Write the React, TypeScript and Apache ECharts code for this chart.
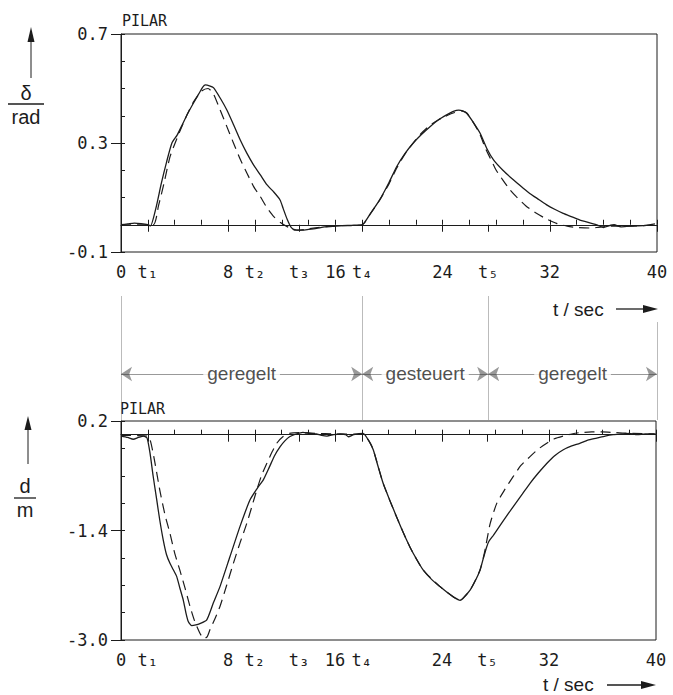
import React, { useEffect, useRef } from 'react';
import * as echarts from 'echarts';

// ---------------- data ----------------
// top panel: rudder angle delta / rad
const topMeasT = [0, 0.5, 1.0, 1.5, 2.0, 2.2, 2.6, 3.0, 3.4, 3.8, 4.2, 4.6, 5.0, 5.4, 5.8, 6.1, 6.3, 6.6, 6.9, 7.4, 7.9, 8.4, 8.9, 9.4, 9.9, 10.4, 10.9, 11.4, 11.87, 12.1, 12.4, 12.7, 13.0, 13.5, 14.0, 14.6, 15.2, 15.8, 16.5, 17.2, 18.0, 18.6, 19.3, 20.0, 20.57, 21.2, 21.8, 22.4, 23.06, 23.7, 24.3, 24.8, 25.2, 25.5, 25.8, 26.3, 26.8, 27.3, 27.8, 28.5, 29.3, 30.0, 30.5, 31.2, 31.8, 32.4, 33.0, 33.6, 34.25, 34.8, 35.5, 36.0, 36.4, 36.8, 37.3, 38.0, 38.6, 39.2, 39.85];
const topMeasV = [0.0, 0.003, 0.006, 0.004, 0.0, -0.004, 0.06, 0.15, 0.23, 0.3, 0.33, 0.37, 0.41, 0.446, 0.48, 0.505, 0.513, 0.51, 0.503, 0.465, 0.421, 0.367, 0.311, 0.262, 0.219, 0.183, 0.146, 0.12, 0.091, 0.06, 0.02, -0.01, -0.02, -0.02, -0.017, -0.013, -0.008, -0.006, -0.003, -0.002, 0.0, 0.04, 0.091, 0.155, 0.213, 0.262, 0.299, 0.33, 0.36, 0.385, 0.403, 0.416, 0.421, 0.418, 0.409, 0.375, 0.336, 0.28, 0.238, 0.2, 0.164, 0.135, 0.115, 0.092, 0.072, 0.056, 0.042, 0.03, 0.017, 0.01, 0.0, -0.01, -0.004, 0.0, -0.008, -0.005, -0.004, -0.002, 0.003];
const topModelT = [0, 2.4, 2.8, 3.2, 3.66, 4.2, 4.8, 5.4, 6.0, 6.5, 6.9, 7.4, 7.9, 8.4, 8.9, 9.4, 9.9, 10.4, 10.9, 11.4, 11.9, 12.4, 13.2, 14.0, 15.0, 16.0, 18.0, 18.6, 19.3, 20.0, 20.6, 21.2, 21.8, 22.4, 23.06, 23.7, 24.3, 24.9, 25.4, 25.8, 26.3, 26.8, 27.2, 27.5, 28.0, 28.5, 29.0, 29.5, 30.2, 31.0, 31.8, 32.5, 33.3, 34.0, 35.0, 35.5, 36.5, 38.0, 40.0];
const topModelV = [0.0, 0.0, 0.07, 0.15, 0.25, 0.32, 0.39, 0.45, 0.49, 0.5, 0.48, 0.421, 0.36, 0.299, 0.24, 0.189, 0.14, 0.103, 0.062, 0.03, 0.008, -0.007, -0.02, -0.015, -0.008, -0.004, 0.0, 0.04, 0.09, 0.15, 0.21, 0.26, 0.3, 0.335, 0.365, 0.385, 0.4, 0.412, 0.418, 0.41, 0.375, 0.33, 0.28, 0.25, 0.2, 0.164, 0.13, 0.103, 0.07, 0.042, 0.02, 0.005, -0.005, -0.01, -0.012, -0.01, -0.005, -0.005, 0.0];

// bottom panel: lateral deviation d / m
const botMeasT = [0, 0.5, 0.92, 1.3, 1.7, 1.95, 2.17, 2.4, 2.67, 2.9, 3.16, 3.4, 3.66, 3.9, 4.16, 4.4, 4.66, 4.85, 5.03, 5.28, 5.6, 5.9, 6.4, 6.9, 7.4, 8.15, 8.9, 9.64, 10.2, 10.64, 11.1, 11.5, 11.9, 12.25, 12.6, 13.1, 13.6, 14.1, 14.6, 15.0, 15.4, 15.9, 16.4, 16.8, 17.0, 17.4, 18.1, 18.5, 18.86, 19.2, 19.6, 20.1, 20.6, 21.1, 21.6, 22.1, 22.6, 23.2, 23.85, 24.35, 24.85, 25.35, 25.7, 26.1, 26.5, 26.84, 27.1, 27.34, 27.5, 27.84, 28.5, 29.33, 30.0, 30.58, 31.2, 31.83, 32.4, 33.07, 33.7, 34.3, 34.9, 35.57, 36.2, 36.8, 37.4, 38.0, 38.6, 39.2, 39.9];
const botMeasV = [-0.02, -0.04, -0.067, -0.04, -0.02, -0.05, -0.27, -0.6, -0.95, -1.25, -1.54, -1.75, -1.88, -1.97, -2.07, -2.24, -2.42, -2.6, -2.73, -2.79, -2.78, -2.76, -2.71, -2.46, -2.22, -1.78, -1.34, -0.954, -0.78, -0.66, -0.47, -0.3, -0.175, -0.09, -0.03, 0.01, 0.034, 0.02, 0.01, -0.01, -0.02, 0.0, 0.01, 0.0, -0.03, 0.0, 0.02, -0.08, -0.22, -0.45, -0.71, -0.96, -1.2, -1.43, -1.64, -1.82, -1.98, -2.11, -2.22, -2.3, -2.37, -2.42, -2.36, -2.27, -2.13, -1.98, -1.8, -1.64, -1.56, -1.47, -1.28, -1.05, -0.87, -0.71, -0.56, -0.42, -0.31, -0.22, -0.165, -0.126, -0.08, -0.05, -0.02, 0.0, 0.01, 0.02, 0.0, 0.01, 0.01];
const botModelT = [0, 2.0, 2.4, 2.9, 3.3, 3.66, 4.0, 4.4, 4.8, 5.16, 5.5, 5.9, 6.2, 6.45, 6.65, 7.0, 7.4, 7.9, 8.4, 8.9, 9.4, 9.8, 10.15, 10.5, 10.9, 11.3, 11.64, 12.1, 12.6, 13.4, 14.5, 16.0, 18.0, 18.5, 18.86, 19.6, 20.6, 21.6, 22.6, 23.85, 24.85, 25.35, 26.1, 26.84, 27.2, 27.6, 28.1, 28.7, 29.33, 29.9, 30.58, 31.2, 31.83, 32.4, 33.07, 33.7, 34.3, 35.2, 36.0, 37.0, 38.0, 40.0];
const botModelV = [-0.01, -0.02, -0.27, -0.81, -1.18, -1.44, -1.72, -1.98, -2.25, -2.51, -2.72, -2.9, -2.98, -2.95, -2.85, -2.7, -2.51, -2.2, -1.88, -1.58, -1.3, -1.04, -0.81, -0.6, -0.42, -0.25, -0.126, -0.03, 0.02, 0.03, 0.02, 0.01, 0.01, -0.08, -0.22, -0.71, -1.2, -1.64, -1.98, -2.22, -2.37, -2.42, -2.27, -1.98, -1.7, -1.3, -1.0, -0.8, -0.61, -0.45, -0.32, -0.21, -0.126, -0.06, -0.02, 0.01, 0.03, 0.04, 0.04, 0.03, 0.02, 0.01];

// time axis labels
const xLabelValues = [0, 2, 8, 10, 13.3, 16, 18, 24, 27.4, 32, 40];
const xLabelTexts = ['0', 't\u2081', '8', 't\u2082', 't\u2083', '16', 't\u2084', '24', 't\u2085', '32', '40'];

// operating regimes between the plots
const regimeBounds = [0, 18, 27.4, 40];
const regimeLineTop = [1, 1, 1, 0.79];
const regimeNames = ['geregelt', 'gesteuert', 'geregelt'];

const ink = '#1c1c1c';
const mono = '"DejaVu Sans Mono", monospace';
const sans = '"Liberation Sans", Arial, sans-serif';

const pairs = (t: number[], v: number[]) => t.map((x, i) => [x, v[i]]);
const xLabelFor = (v: number) => {
  const i = xLabelValues.findIndex((x) => Math.abs(x - v) < 1e-6);
  return i >= 0 ? xLabelTexts[i] : '';
};

const xMinor = (gridIndex: number) => ({
  type: 'value', gridIndex, position: 'bottom', min: 0, max: 40, interval: 2,
  axisLine: { show: true, lineStyle: { color: ink, width: 1 } },
  axisTick: { show: true, inside: true, length: 5, lineStyle: { color: ink, width: 1 } },
  axisLabel: { show: false }, splitLine: { show: false },
});
const xMajor = (gridIndex: number) => ({
  type: 'value', gridIndex, position: 'bottom', offset: 0, min: 0, max: 40,
  axisLine: { show: false },
  axisTick: { show: true, inside: false, length: 7, customValues: xLabelValues, lineStyle: { color: ink, width: 1 } },
  axisLabel: { show: true, customValues: xLabelValues, formatter: xLabelFor, margin: 11, fontFamily: mono, fontSize: 17, color: ink },
  splitLine: { show: false },
});
const yMinor = (gridIndex: number, min: number, max: number, interval: number) => ({
  type: 'value', gridIndex, position: 'left', min, max, interval,
  axisLine: { show: true, lineStyle: { color: ink, width: 1 } },
  axisTick: { show: true, inside: true, length: 4, lineStyle: { color: ink, width: 1 } },
  axisLabel: { show: false }, splitLine: { show: false },
});
const yMajor = (gridIndex: number, min: number, max: number, interval: number) => ({
  type: 'value', gridIndex, position: 'left', offset: 0, min, max, interval,
  axisLine: { show: false },
  axisTick: { show: true, inside: false, length: 10, lineStyle: { color: ink, width: 1 } },
  axisLabel: { show: true, margin: 13, formatter: (v: number) => v.toFixed(1), fontFamily: mono, fontSize: 17, color: ink },
  splitLine: { show: false },
});

const measStyle = { color: ink, width: 1.3 };
const modelStyle = { color: ink, width: 1.2, type: [10, 6] };

const text = (s: string, x: number, y: number, size: number, font: string, align = 'center') => ({
  type: 'text', x, y,
  style: { text: s, fontSize: size, fontFamily: font, fill: ink, align, verticalAlign: 'middle', textAlign: align, textVerticalAlign: 'middle' },
});

export default function App() {
  const ref = useRef<HTMLDivElement>(null);
  useEffect(() => {
    if (!ref.current) return;
    const chart = echarts.init(ref.current, undefined, { renderer: 'svg' });
    const mid = 0.371;
    const option: any = {
      animation: false,
      backgroundColor: '#ffffff',
      grid: [
        { left: 121, top: 34, width: 536, height: 218, show: true, borderColor: ink, borderWidth: 1, outerBoundsMode: 'none' },
        { left: 121, top: 421, width: 535, height: 219, show: true, borderColor: ink, borderWidth: 1, outerBoundsMode: 'none' },
        { left: 121, top: 296, width: 536, height: 124, show: false, outerBoundsMode: 'none' },
      ],
      xAxis: [
        xMinor(0), xMajor(0), xMinor(1), xMajor(1),
        { type: 'value', gridIndex: 2, min: 0, max: 40, show: false },
      ],
      yAxis: [
        yMinor(0, -0.1, 0.7, 0.1), yMajor(0, -0.1, 0.7, 0.4),
        yMinor(1, -3.0, 0.2, 0.4), yMajor(1, -3.0, 0.2, 1.6),
        { type: 'value', gridIndex: 2, min: 0, max: 1, show: false },
      ],
      series: [
        { type: 'line', xAxisIndex: 0, yAxisIndex: 0, data: pairs(topMeasT, topMeasV), showSymbol: false, smooth: 0.2, lineStyle: measStyle },
        { type: 'line', xAxisIndex: 0, yAxisIndex: 0, data: pairs(topModelT, topModelV), showSymbol: false, smooth: 0.2, lineStyle: modelStyle },
        { type: 'line', xAxisIndex: 2, yAxisIndex: 2, data: pairs(botMeasT, botMeasV), showSymbol: false, smooth: 0.2, lineStyle: measStyle },
        { type: 'line', xAxisIndex: 2, yAxisIndex: 2, data: pairs(botModelT, botModelV), showSymbol: false, smooth: 0.2, lineStyle: modelStyle },
        {
          type: 'lines', coordinateSystem: 'cartesian2d', xAxisIndex: 4, yAxisIndex: 4,
          lineStyle: { color: '#777', width: 1 }, symbol: 'none', silent: true,
          data: regimeBounds.map((b, i) => ({ coords: [[b, 0], [b, regimeLineTop[i]]] })),
        },
        {
          type: 'lines', coordinateSystem: 'cartesian2d', xAxisIndex: 4, yAxisIndex: 4,
          lineStyle: { color: '#333', width: 1 }, symbol: ['arrow', 'arrow'], symbolSize: 11, silent: true,
          data: regimeNames.map((_, i) => ({ coords: [[regimeBounds[i], mid], [regimeBounds[i + 1], mid]] })),
        },
        {
          type: 'scatter', xAxisIndex: 4, yAxisIndex: 4, symbolSize: 0, silent: true,
          label: { show: true, position: 'inside', formatter: '{b}', fontFamily: sans, fontSize: 19, color: '#222', backgroundColor: '#ffffff', padding: [0, 4] },
          data: regimeNames.map((n, i) => ({ name: n, value: [(regimeBounds[i] + regimeBounds[i + 1]) / 2, mid] })),
        },
      ],
      graphic: [
        text('PILAR', 122, 21, 15, mono, 'left'),
        text('PILAR', 120, 409, 15, mono, 'left'),
        // top y name
        { type: 'line', shape: { x1: 31, y1: 40, x2: 31, y2: 78 }, style: { stroke: ink, lineWidth: 1 } },
        { type: 'polygon', shape: { points: [[31, 27], [27.5, 42], [34.5, 42]] }, style: { fill: ink } },
        text('δ', 26, 93, 20, sans),
        { type: 'line', shape: { x1: 8, y1: 104, x2: 44, y2: 104 }, style: { stroke: ink, lineWidth: 1.3 } },
        text('rad', 26, 117, 20, sans),
        // bottom y name
        { type: 'line', shape: { x1: 28, y1: 428, x2: 28, y2: 464 }, style: { stroke: ink, lineWidth: 1 } },
        { type: 'polygon', shape: { points: [[28, 416], [24.5, 430], [31.5, 430]] }, style: { fill: ink } },
        text('d', 25, 486, 20, sans),
        { type: 'line', shape: { x1: 14, y1: 498, x2: 36, y2: 498 }, style: { stroke: ink, lineWidth: 1.3 } },
        text('m', 25, 510, 20, sans),
        // t / sec arrows
        text('t / sec', 553, 309, 19, sans, 'left'),
        { type: 'line', shape: { x1: 616, y1: 309, x2: 646, y2: 309 }, style: { stroke: ink, lineWidth: 1.3 } },
        { type: 'polygon', shape: { points: [[658, 309], [643, 305], [643, 313]] }, style: { fill: ink } },
        text('t / sec', 543, 684, 19, sans, 'left'),
        { type: 'line', shape: { x1: 607, y1: 685, x2: 644, y2: 685 }, style: { stroke: ink, lineWidth: 1.3 } },
        { type: 'polygon', shape: { points: [[656, 685], [641, 681], [641, 689]] }, style: { fill: ink } },
      ],
    };
    chart.setOption(option);
    return () => chart.dispose();
  }, []);
  return <div ref={ref} style={{ position: 'fixed', left: 0, top: 0, width: 673, height: 695, background: '#fff' }} />;
}
